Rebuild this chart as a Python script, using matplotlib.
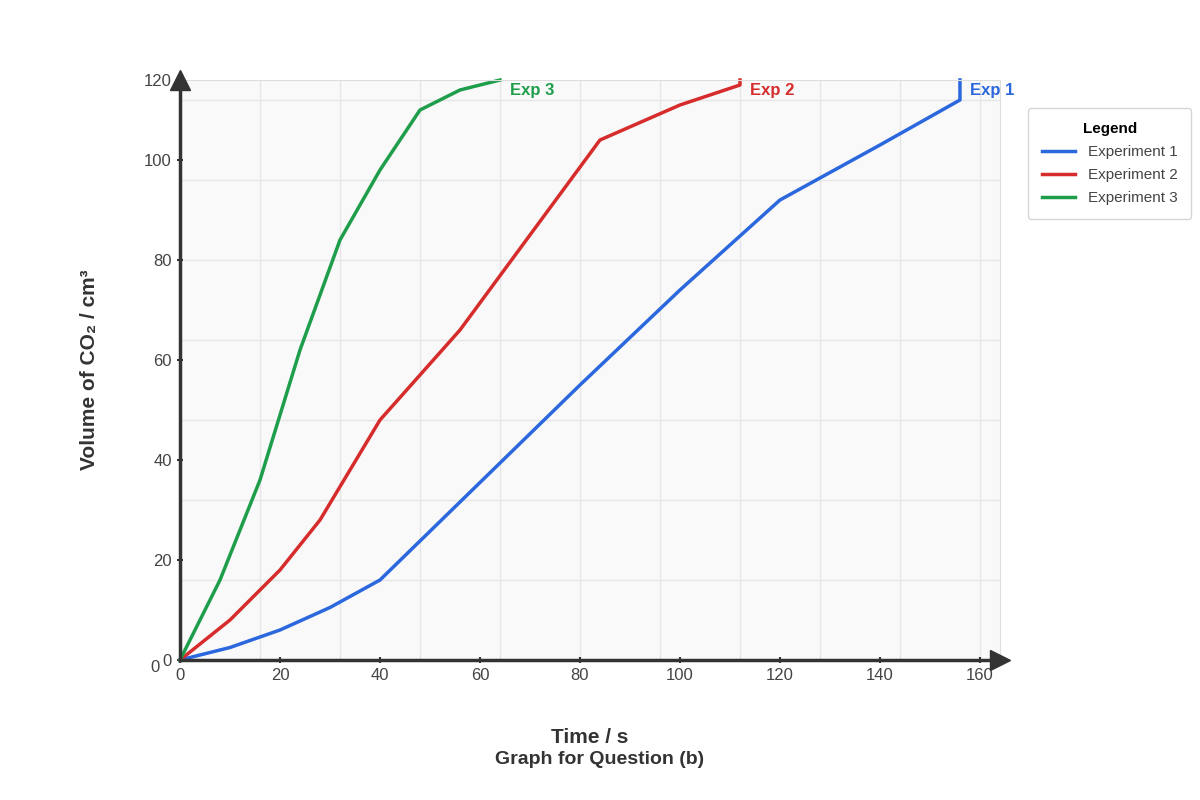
import matplotlib
matplotlib.use("Agg")
import matplotlib.pyplot as plt
import numpy as np

exp1_t = [0, 10, 20, 30, 40, 80, 100, 120, 140, 156, 156]
exp1_v = [0, 2.5, 6, 10.5, 16, 55, 74, 92, 103, 112, 116]
exp2_t = [0, 10, 20, 28, 40, 56, 84, 100, 112, 112]
exp2_v = [0, 8, 18, 28, 48, 66, 104, 111, 115, 116]
exp3_t = [0, 8, 16, 24, 32, 40, 48, 56, 64]
exp3_v = [0, 16, 36, 62, 84, 98, 110, 114, 116]
series = [("Experiment 1", "Exp 1", exp1_t, exp1_v, "#2b67dd"),
          ("Experiment 2", "Exp 2", exp2_t, exp2_v, "#d62c2c"),
          ("Experiment 3", "Exp 3", exp3_t, exp3_v, "#1e9e4a")]
xticks = [0, 20, 40, 60, 80, 100, 120, 140, 160]
yticks = [0, 20, 40, 60, 80, 100, 116]
ylabels = ["0", "20", "40", "60", "80", "100", "120"]

plt.rcParams['font.family'] = ['Liberation Sans', 'DejaVu Sans']
fig = plt.figure(figsize=(12, 8), dpi=100)
ax = fig.add_axes([0.15, 0.175, 0.6833, 0.725])
ax.set_facecolor("#f9f9f9")
ax.set_xlim(0, 164)
ax.set_ylim(0, 116)
for g in np.arange(16, 164, 16):
    ax.axvline(g, color="#e6e6e6", lw=1, zorder=0)
for g in np.arange(16, 117, 16):
    ax.axhline(g, color="#e6e6e6", lw=1, zorder=0)
for s in ["top", "right"]:
    ax.spines[s].set_color("#dddddd")
for s in ["left", "bottom"]:
    ax.spines[s].set_color("#333333")
    ax.spines[s].set_linewidth(2.5)
ax.set_xticks(xticks)
ax.set_yticks(yticks)
ax.set_yticklabels(ylabels)
ax.tick_params(colors="#333333", labelsize=12, length=5, width=1.5, direction="inout")
ax.tick_params(axis="x", labelcolor="#444444")
ax.tick_params(axis="y", labelcolor="#444444")
ax.plot([164], [0], marker=">", ms=14, color="#333333", clip_on=False, zorder=5)
ax.plot([0], [116], marker="^", ms=14, color="#333333", clip_on=False, zorder=5)
ax.text(-4, -1.5, "0", ha="right", va="center", fontsize=12, color="#444444")

for name, short, t, v, c in series:
    ax.plot(t, v, color=c, lw=2.5, label=name, clip_on=False)
    ax.text(t[-1] + 2, v[-1] - 2, short, color=c, fontsize=12, fontweight="bold", va="center")

ax.set_xlabel("Time / s", fontsize=15, fontweight="bold", color="#333333", labelpad=32)
ax.set_ylabel("Volume of CO₂ / cm³", fontsize=15, fontweight="bold", color="#333333", labelpad=32)
fig.text(0.5, 0.045, "Graph for Question (b)", ha="center", fontsize=14, fontweight="bold", color="#333333")

leg = ax.legend(loc="upper left", bbox_to_anchor=(1.025, 0.965), title="Legend",
                fontsize=11, frameon=True, fancybox=True, borderpad=0.9, handlelength=2.2,
                labelspacing=0.6, edgecolor="#cccccc")
leg.get_title().set_fontweight("bold")
leg.get_title().set_fontsize(11)
for txt in leg.get_texts():
    txt.set_color("#444444")
fig.savefig("out.png", dpi=100)
